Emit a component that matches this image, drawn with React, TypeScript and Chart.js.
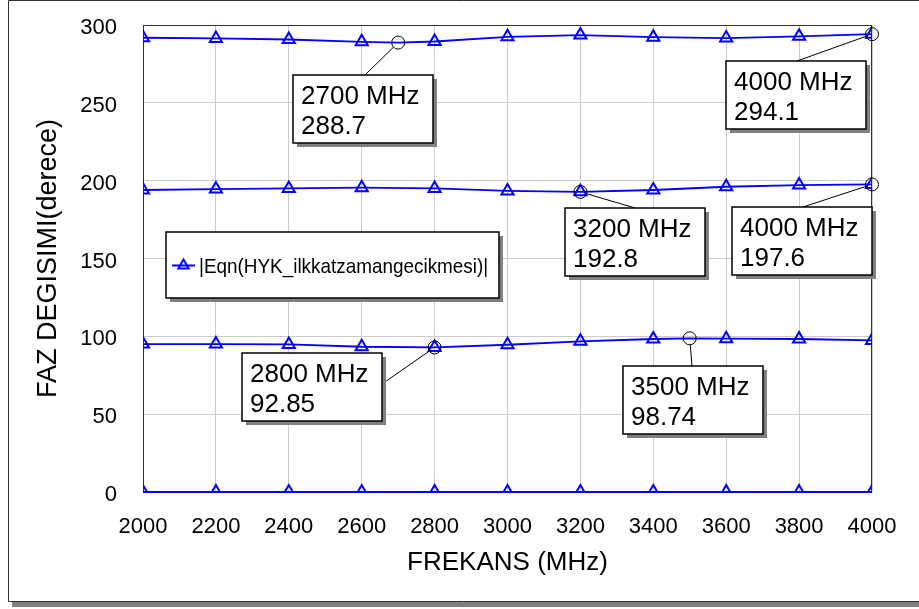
import React, { useEffect, useRef } from "react";
import { Chart, registerables } from "chart.js";

Chart.register(...registerables);

// ---------- data ----------
const frequencies = [2000, 2200, 2400, 2600, 2800, 3000, 3200, 3400, 3600, 3800, 4000];
const phaseTrace1 = [0, 0, 0, 0, 0, 0, 0, 0, 0, 0, 0];
const phaseTrace2 = [95.0, 95.0, 94.8, 93.3, 92.85, 94.6, 96.8, 98.3, 98.5, 98.3, 97.4];
const phaseTrace3 = [194.0, 194.6, 195.0, 195.5, 195.0, 193.4, 192.8, 194.0, 196.1, 197.2, 197.6];
const phaseTrace4 = [291.8, 291.4, 290.7, 289.2, 289.4, 292.4, 293.5, 292.2, 291.6, 292.7, 294.1];

const markerFreqs = [2700, 4000, 3200, 4000, 2800, 3500];
const markerValues = [288.7, 294.1, 192.8, 197.6, 92.85, 98.74];
const markerTrace = [3, 3, 2, 2, 1, 1];

const xTickMin = 2000;
const xTickMax = 4000;
const xTickStep = 200;
const yTickMin = 0;
const yTickMax = 300;
const yTickStep = 50;

const xTitle = "FREKANS (MHz)";
const yTitle = "FAZ DEGISIMI(derece)";
const legendLabel = "|Eqn(HYK_ilkkatzamangecikmesi)|";

// ---------- styling / layout ----------
const FONT = "'Liberation Sans', Arial, sans-serif";
const BLUE = "#0000ff";
const BOXES = [
  { left: 293, top: 75, ax: 365, ay: 75 },
  { left: 726, top: 61, ax: 797, ay: 61 },
  { left: 565, top: 208, ax: 635, ay: 208 },
  { left: 732, top: 207, ax: 803, ay: 207 },
  { left: 242, top: 353, ax: 382, ay: 384 },
  { left: 623, top: 366, ax: 692, ay: 366 },
];
const BOX_W = 140;
const BOX_H = 68;

const traces = [phaseTrace1, phaseTrace2, phaseTrace3, phaseTrace4];

function buildPoints(ti: number) {
  const pts = frequencies.map((f, i) => ({ x: f, y: traces[ti][i] }));
  markerFreqs.forEach((f, k) => {
    if (markerTrace[k] === ti && !frequencies.includes(f)) {
      pts.push({ x: f, y: markerValues[k] });
    }
  });
  pts.sort((a, b) => a.x - b.x);
  return pts;
}

function drawBox(ctx: CanvasRenderingContext2D, x: number, y: number, w: number, h: number) {
  ctx.fillStyle = "#808080";
  ctx.fillRect(x + 4, y + 4, w, h);
  ctx.fillStyle = "#ffffff";
  ctx.fillRect(x, y, w, h);
  ctx.strokeStyle = "#000";
  ctx.lineWidth = 1.5;
  ctx.strokeRect(x, y, w, h);
}

const decorPlugin = {
  id: "decor",
  beforeDraw(chart: any) {
    const ctx = chart.ctx as CanvasRenderingContext2D;
    ctx.save();
    ctx.fillStyle = "#ffffff";
    ctx.fillRect(0, 0, chart.width, chart.height);
    ctx.fillStyle = "#808080";
    ctx.fillRect(12, 602, chart.width - 12, 5);
    ctx.strokeStyle = "#333";
    ctx.lineWidth = 1;
    ctx.beginPath();
    ctx.moveTo(chart.width, 0.5);
    ctx.lineTo(8.5, 0.5);
    ctx.lineTo(8.5, 601.5);
    ctx.lineTo(chart.width, 601.5);
    ctx.stroke();
    ctx.restore();
  },
  beforeDatasetsDraw(chart: any) {
    const ctx = chart.ctx as CanvasRenderingContext2D;
    const a = chart.chartArea;
    ctx.save();
    ctx.strokeStyle = "#303030";
    ctx.lineWidth = 1;
    ctx.strokeRect(a.left + 0.5, a.top + 0.5, a.right - a.left - 1, a.bottom - a.top);
    ctx.restore();
  },
  afterDatasetsDraw(chart: any) {
    const ctx = chart.ctx as CanvasRenderingContext2D;
    const xs = chart.scales.x;
    const ys = chart.scales.y;
    ctx.save();
    markerFreqs.forEach((f, k) => {
      const px = xs.getPixelForValue(f);
      const py = ys.getPixelForValue(markerValues[k]);
      const b = BOXES[k];
      const r = 6.5;
      const dx = b.ax - px;
      const dy = b.ay - py;
      const d = Math.sqrt(dx * dx + dy * dy) || 1;
      ctx.strokeStyle = "#000";
      ctx.lineWidth = 1;
      ctx.beginPath();
      ctx.moveTo(px + (dx / d) * r, py + (dy / d) * r);
      ctx.lineTo(b.ax, b.ay);
      ctx.stroke();
      ctx.beginPath();
      ctx.arc(px, py, r, 0, Math.PI * 2);
      ctx.stroke();
      drawBox(ctx, b.left, b.top, BOX_W, BOX_H);
      ctx.fillStyle = "#000";
      ctx.font = `26px ${FONT}`;
      ctx.textAlign = "left";
      ctx.textBaseline = "alphabetic";
      ctx.fillText(`${f} MHz`, b.left + 8, b.top + 28.5);
      ctx.fillText(String(markerValues[k]), b.left + 8, b.top + 58.5);
    });
    // legend
    drawBox(ctx, 166, 232, 333, 66);
    ctx.strokeStyle = BLUE;
    ctx.lineWidth = 2;
    ctx.beginPath();
    ctx.moveTo(172, 265.5);
    ctx.lineTo(195, 265.5);
    ctx.stroke();
    const tr = 6;
    const tcx = 183.5;
    const tcy = 265.5;
    ctx.beginPath();
    ctx.moveTo(tcx, tcy - tr);
    ctx.lineTo(tcx + tr * 0.866, tcy + tr / 2);
    ctx.lineTo(tcx - tr * 0.866, tcy + tr / 2);
    ctx.closePath();
    ctx.stroke();
    ctx.fillStyle = "#000";
    ctx.font = `21px ${FONT}`;
    ctx.textBaseline = "alphabetic";
    ctx.save();
    ctx.translate(199, 273);
    ctx.scale(0.9, 1);
    ctx.fillText(legendLabel, 0, 0);
    ctx.restore();
    ctx.restore();
  },
  afterDraw(chart: any) {
    const ctx = chart.ctx as CanvasRenderingContext2D;
    const a = chart.chartArea;
    ctx.save();
    ctx.fillStyle = "#000";
    ctx.textAlign = "center";
    ctx.textBaseline = "alphabetic";
    ctx.font = `26px ${FONT}`;
    ctx.fillText(xTitle, (a.left + a.right) / 2, 570);
    ctx.font = `27px ${FONT}`;
    ctx.translate(56, (a.top + a.bottom) / 2);
    ctx.rotate(-Math.PI / 2);
    ctx.fillText(yTitle, 0, 0);
    ctx.restore();
  },
};

export default function App() {
  const ref = useRef<HTMLCanvasElement | null>(null);
  useEffect(() => {
    if (!ref.current) return;
    const tickFont = { family: FONT, size: 22 };
    const chart = new Chart(ref.current, {
      type: "line",
      data: {
        datasets: traces.map((_, ti) => ({
          label: legendLabel,
          data: buildPoints(ti),
          borderColor: BLUE,
          borderWidth: 1.8,
          backgroundColor: "transparent",
          pointStyle: "triangle",
          pointRadius: (c: any) => (frequencies.includes(c.raw?.x) ? 7 : 0),
          pointBorderColor: BLUE,
          pointBackgroundColor: "transparent",
          pointBorderWidth: 2,
          tension: 0,
          clip: { left: 0, top: 0, right: 0, bottom: 1 },
        })),
      },
      options: {
        animation: false,
        responsive: false,
        maintainAspectRatio: false,
        layout: { padding: { top: 25, right: 47, left: 0, bottom: 0 } },
        plugins: { legend: { display: false }, tooltip: { enabled: false } },
        scales: {
          x: {
            type: "linear",
            min: xTickMin,
            max: xTickMax,
            ticks: {
              stepSize: xTickStep,
              font: tickFont,
              color: "#000",
              padding: 22,
              maxRotation: 0,
              autoSkip: false,
              callback: (v: any) => String(v),
            },
            grid: { color: "#cccccc", drawTicks: false, lineWidth: 1 },
            border: { display: false },
            afterFit: (s: any) => {
              s.height = 117;
              s.paddingLeft = 0;
              s.paddingRight = 0;
            },
          },
          y: {
            type: "linear",
            min: yTickMin,
            max: yTickMax,
            ticks: {
              stepSize: yTickStep,
              font: tickFont,
              color: "#000",
              padding: 26,
              labelOffset: 3,
              callback: (v: any) => String(v),
            },
            grid: { color: "#cccccc", drawTicks: false, lineWidth: 1 },
            border: { display: false },
            afterFit: (s: any) => {
              s.width = 143;
              s.paddingTop = 0;
              s.paddingBottom = 0;
            },
          },
        },
      },
      plugins: [decorPlugin],
    } as any);
    return () => chart.destroy();
  }, []);
  return (
    <div style={{ position: "absolute", left: 0, top: 0, width: 919, height: 609 }}>
      <canvas ref={ref} width={919} height={609} style={{ width: 919, height: 609 }} />
    </div>
  );
}
